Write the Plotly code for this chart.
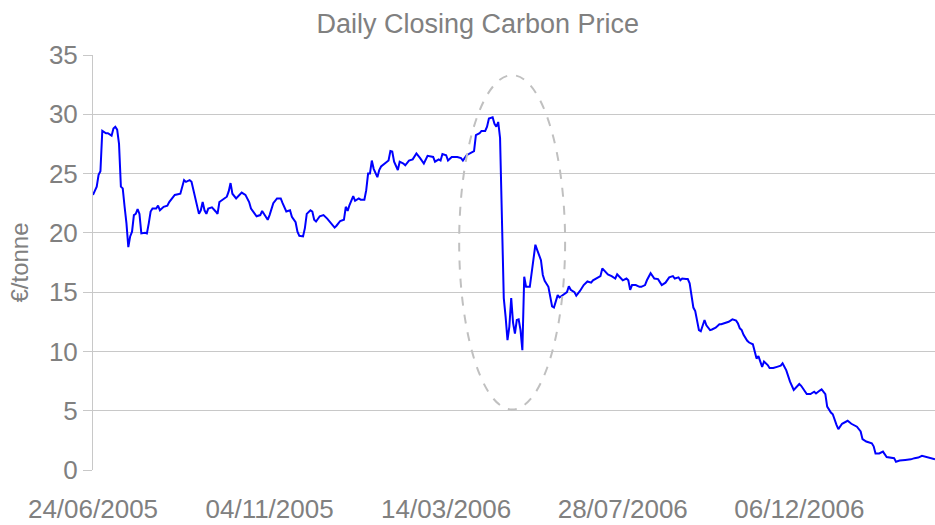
import plotly.graph_objects as go

# trading-day index (0 = 24/06/2005) and closing price (EUR/tonne)
day = [0, 2, 3, 4, 5, 7, 8, 10, 11, 12, 13, 14, 15, 16, 17, 18, 19, 20, 21, 22,
       23, 24, 25, 26, 28, 29, 30, 31, 32, 34, 35, 36, 38, 40, 41, 43, 44, 47, 48, 49,
       50, 52, 53, 55, 57, 58, 59, 60, 61, 62, 64, 66, 67, 68, 70, 72, 73, 74, 75, 77,
       80, 82, 84, 85, 88, 90, 91, 92, 94, 95, 97, 99, 101, 102, 104, 106, 107, 109, 110, 111,
       113, 114, 115, 117, 118, 119, 120, 122, 124, 126, 128, 130, 131, 133, 135, 136, 137, 138, 140, 141,
       143, 144, 146, 147, 148, 149, 150, 151, 153, 154, 155, 157, 159, 160, 161, 162, 164, 165, 167, 168,
       170, 172, 174, 176, 178, 180, 183, 184, 186, 187, 188, 190, 191, 193, 196, 198, 199, 201, 203, 205,
       206, 208, 209, 211, 212, 213, 215, 216, 217, 218, 219, 220, 221, 222, 223, 224, 225, 226, 227, 228,
       229, 230, 231, 232, 233, 235, 236, 238, 239, 241, 242, 243, 245, 246, 247, 248, 249, 250, 251, 253,
       255, 256, 257, 259, 260, 262, 264, 266, 268, 269, 271, 273, 274, 276, 277, 279, 281, 282, 284, 285,
       287, 288, 289, 290, 292, 294, 295, 297, 298, 300, 302, 304, 306, 308, 310, 312, 313, 315, 316, 317,
       319, 320, 321, 322, 323, 324, 325, 326, 327, 328, 329, 330, 332, 333, 335, 337, 338, 340, 342, 344,
       346, 347, 348, 349, 350, 352, 353, 355, 356, 357, 358, 359, 360, 361, 363, 364, 366, 368, 370, 371,
       373, 375, 377, 380, 381, 384, 386, 388, 389, 391, 392, 394, 395, 397, 398, 400, 401, 403, 405, 406,
       408, 411, 413, 414, 416, 419, 420, 421, 423, 425, 427, 429, 431, 432, 434, 437, 440, 442, 444, 446,
       448, 450, 453]

price = [23.2, 23.9, 24.9, 25.2, 28.6, 28.4, 28.4, 28.2, 28.8, 28.95, 28.7, 27.5, 23.9, 23.75, 22.2, 20.8, 18.8, 19.7, 20.1, 21.5,
         21.6, 22.0, 21.6, 19.95, 20.0, 19.95, 20.8, 21.8, 22.05, 22.05, 22.3, 21.9, 22.2, 22.3, 22.6, 23.0, 23.2, 23.3, 24.0, 24.45,
         24.3, 24.45, 24.3, 23.05, 21.6, 21.9, 22.6, 21.9, 21.6, 22.05, 22.15, 21.8, 21.6, 22.6, 22.8, 23.05, 23.5, 24.2, 23.3, 22.9,
         23.4, 23.2, 22.6, 22.05, 21.4, 21.5, 21.85, 21.6, 21.1, 21.5, 22.5, 22.9, 22.9, 22.5, 21.8, 21.9, 21.35, 20.9, 20.1, 19.75,
         19.7, 20.4, 21.6, 21.9, 21.8, 21.1, 20.95, 21.4, 21.5, 21.2, 20.8, 20.45, 20.6, 21.0, 21.1, 22.2, 21.85, 22.35, 23.1, 22.7,
         22.9, 22.8, 22.8, 23.6, 25.0, 25.0, 26.1, 25.4, 24.7, 25.3, 25.6, 25.85, 26.1, 26.9, 26.85, 26.0, 25.3, 26.0, 25.85, 25.7,
         26.1, 26.2, 26.7, 26.3, 25.85, 26.5, 26.4, 26.0, 26.2, 26.1, 26.65, 26.55, 26.1, 26.4, 26.4, 26.3, 26.1, 26.55, 26.75, 26.9,
         28.25, 28.4, 28.6, 28.6, 28.95, 29.65, 29.75, 29.2, 28.95, 29.35, 28.0, 20.5, 14.5, 12.9, 10.95, 12.1, 14.5, 12.4, 11.5, 12.65,
         12.7, 11.8, 10.1, 16.3, 15.45, 15.45, 16.6, 19.0, 18.55, 17.7, 16.45, 15.95, 15.45, 14.5, 13.8, 13.7, 14.35, 14.75, 14.55, 14.75,
         15.0, 15.5, 15.2, 15.0, 14.7, 15.1, 15.6, 15.9, 15.8, 16.0, 16.15, 16.35, 17.0, 16.6, 16.5, 16.35, 16.15, 16.5, 16.15, 16.0,
         16.15, 16.0, 15.2, 15.6, 15.6, 15.45, 15.45, 15.6, 16.0, 16.6, 16.15, 16.1, 15.6, 15.8, 16.25, 16.35, 16.15, 16.25, 16.0, 16.15,
         16.1, 16.1, 15.75, 14.5, 13.7, 13.4, 12.65, 11.8, 11.7, 12.3, 12.65, 12.2, 11.8, 11.85, 12.0, 12.3, 12.3, 12.4, 12.5, 12.7,
         12.6, 12.35, 11.95, 11.8, 11.4, 10.9, 10.75, 10.6, 10.1, 9.4, 9.6, 9.15, 8.7, 9.15, 8.85, 8.6, 8.6, 8.7, 8.8, 9.0,
         8.4, 7.45, 6.75, 7.25, 7.1, 6.4, 6.4, 6.6, 6.45, 6.7, 6.8, 6.4, 5.35, 4.85, 4.7, 3.8, 3.45, 3.9, 4.1, 4.15,
         3.9, 3.65, 3.25, 2.6, 2.4, 2.25, 2.0, 1.4, 1.4, 1.55, 1.1, 1.05, 1.0, 0.7, 0.8, 0.85, 0.9, 1.0, 1.05, 1.2,
         1.1, 1.05, 0.9]

tick_days = [0, 95, 190, 285, 380]
tick_labels = ["24/06/2005", "04/11/2005", "14/03/2006", "28/07/2006", "06/12/2006"]
y_ticks = [0, 5, 10, 15, 20, 25, 30, 35]

# highlighted period (ellipse bounds in data units)
ellipse_days = [197, 254]
ellipse_prices = [5.1, 33.3]

FONT = "Liberation Sans, Arial, sans-serif"
GREY = "#808080"
GRID = "#c8c8c8"

fig = go.Figure()
fig.add_trace(go.Scatter(x=day, y=price, mode="lines",
                         line=dict(color="#0000ff", width=2), showlegend=False,
                         hoverinfo="skip"))

fig.add_shape(type="circle", xref="x", yref="y",
              x0=ellipse_days[0], x1=ellipse_days[1],
              y0=ellipse_prices[0], y1=ellipse_prices[1],
              line=dict(color="#c0c0c0", width=2, dash="dash"))

fig.update_layout(
    width=935, height=525,
    margin=dict(l=93, r=0, t=55, b=55),
    paper_bgcolor="white", plot_bgcolor="white",
    font=dict(family=FONT, color=GREY, size=26),
    title=dict(text="Daily Closing Carbon Price", x=0.511, xref="container",
               xanchor="center", y=1 - 24 / 525, yref="container", yanchor="middle",
               font=dict(family=FONT, size=27, color=GREY)),
)

fig.update_xaxes(range=[0, 453], tickvals=tick_days, ticktext=tick_labels,
                 showgrid=False, zeroline=False, showline=False, ticks="",
                 ticklabelstandoff=21, automargin=False,
                 tickfont=dict(family=FONT, size=26, color=GREY))

fig.update_yaxes(range=[0, 35], tickvals=y_ticks, showgrid=True, gridcolor=GRID,
                 gridwidth=1, zeroline=False, showline=True, linecolor=GRID, linewidth=1,
                 ticks="outside", ticklen=9, tickcolor=GRID, automargin=False,
                 tickfont=dict(family=FONT, size=26, color=GREY),
                 title=dict(text="€/tonne", standoff=13,
                            font=dict(family=FONT, size=24, color=GREY)))

fig.write_html("out.html", config={"displayModeBar": False},
               post_script="document.body.style.margin='0';document.body.style.overflow='hidden';")
